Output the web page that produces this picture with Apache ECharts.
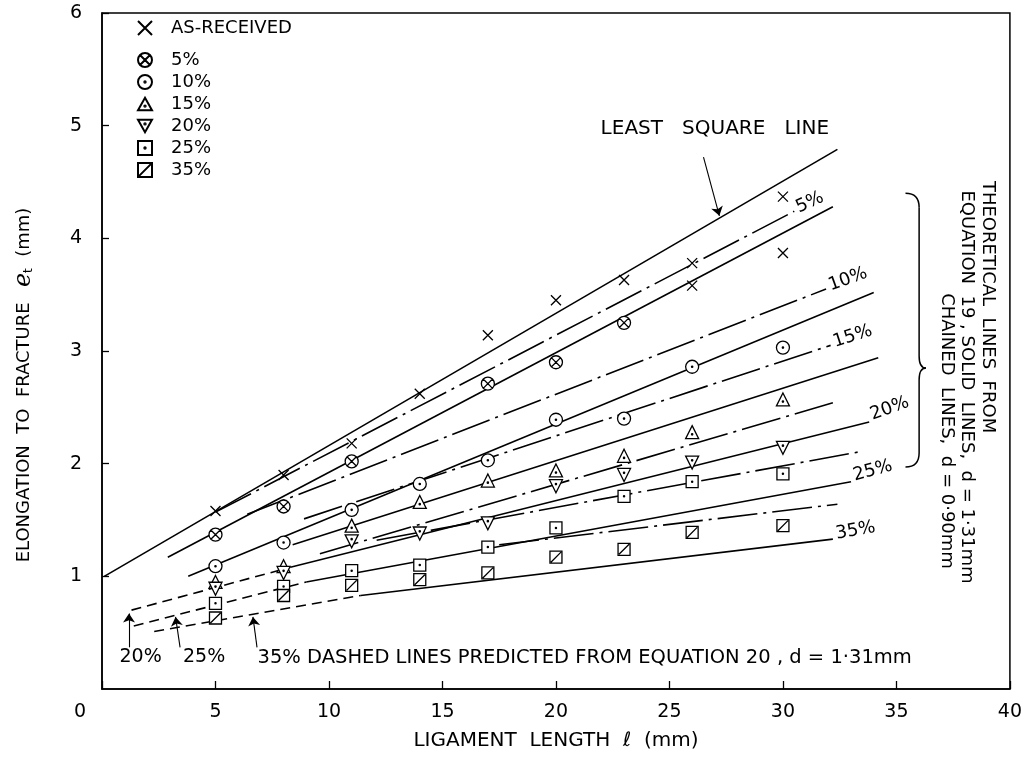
<!DOCTYPE html>
<html><head><meta charset="utf-8">
<script src="https://cdn.jsdelivr.net/npm/echarts@6/dist/echarts.min.js"></script>
<style>html,body{margin:0;padding:0;background:#fff}#c{width:1025px;height:766px}</style>
</head><body><div id="c"></div>
<script>
// ---------- data ----------
const xTicks = [0, 5, 10, 15, 20, 25, 30, 35, 40];
const yTicks = [0, 1, 2, 3, 4, 5, 6];

const asReceived = [[5,1.58],[8,1.90],[11,2.18],[14,2.62],[17,3.14],[20,3.45],[23,3.63],[26,3.78],[26,3.58],[30,4.37],[30,3.87]];
const pct5  = [[5,1.37],[8,1.62],[11,2.02],[17,2.71],[20,2.90],[23,3.25]];
const pct10 = [[5,1.09],[8,1.30],[11,1.59],[14,1.82],[17,2.03],[20,2.39],[23,2.40],[26,2.86],[30,3.03]];
const pct15 = [[5,0.95],[8,1.09],[11,1.45],[14,1.66],[17,1.85],[20,1.94],[23,2.07],[26,2.28],[30,2.57]];
const pct20 = [[5,0.89],[8,1.03],[11,1.31],[14,1.38],[17,1.47],[20,1.80],[23,1.90],[26,2.01],[30,2.14]];
const pct25 = [[5,0.76],[8,0.91],[11,1.05],[14,1.10],[17,1.26],[20,1.43],[23,1.71],[26,1.84],[30,1.91]];
const pct35 = [[5,0.63],[8,0.83],[11,0.92],[14,0.97],[17,1.03],[20,1.17],[23,1.24],[26,1.39],[30,1.45]];

const leastSquare = [[0.1,1.00],[32.4,4.79]];
const chain5  = [[5.0,1.57],[30.5,4.24]];
const solid5  = [[2.9,1.17],[32.2,4.28]];
const chain10 = [[6.4,1.55],[31.9,3.55]];
const solid10 = [[3.8,1.00],[34.0,3.52]];
const chain15 = [[8.9,1.51],[32.1,3.05]];
const solid15 = [[8.4,1.28],[34.2,2.94]];
const chain20 = [[9.6,1.20],[32.2,2.54]];
const solid20 = [[8.3,1.08],[33.8,2.37]];
const chain25 = [[12.1,1.32],[33.5,2.11]];
const solid25 = [[9.0,0.95],[33.0,1.84]];
const chain35 = [[17.5,1.28],[32.4,1.64]];
const solid35 = [[11.4,0.83],[32.2,1.33]];
const dashed20 = [[1.3,0.70],[8.3,1.08]];
const dashed25 = [[1.4,0.56],[9.0,0.95]];
const dashed35 = [[2.3,0.51],[11.4,0.83]];

const lineLabels = ['5%','10%','15%','20%','25%','35%'];

// ---------- styling ----------
const FONT = "'DejaVu Sans', sans-serif";
const BLACK = '#000';
const CHAIN = [40, 6, 3, 6];
const DASH = [10, 6];

const SYM = {
  cross: 'path://M0,0L10,10M10,0L0,10',
  circleX: 'path://M0,5A5,5,0,1,1,10,5A5,5,0,1,1,0,5ZM1.6,1.6L8.4,8.4M8.4,1.6L1.6,8.4',
  circleDot: 'path://M0,5A5,5,0,1,1,10,5A5,5,0,1,1,0,5ZM4.5,5A0.5,0.5,0,1,1,5.5,5A0.5,0.5,0,1,1,4.5,5Z',
  triUp: 'path://M5,0L10,9L0,9ZM4.5,6A0.5,0.5,0,1,1,5.5,6A0.5,0.5,0,1,1,4.5,6Z',
  triDown: 'path://M0,0L10,0L5,9ZM4.5,3A0.5,0.5,0,1,1,5.5,3A0.5,0.5,0,1,1,4.5,3Z',
  squareDot: 'path://M0,0L10,0L10,10L0,10ZM4.5,5A0.5,0.5,0,1,1,5.5,5A0.5,0.5,0,1,1,4.5,5Z',
  squareSlash: 'path://M0,0L10,0L10,10L0,10ZM0.8,9.2L9.2,0.8'
};

function lineSeries(name, data, type) {
  return {
    type: 'line', name: name, data: data, symbol: 'none', silent: true, z: 2,
    lineStyle: { color: BLACK, width: 1.6, type: type },
    animation: false
  };
}
function scatterSeries(name, data, symbol, size) {
  return {
    type: 'scatter', name: name, data: data, symbol: symbol, symbolSize: size, z: 5,
    itemStyle: { color: '#fff', borderColor: BLACK, borderWidth: 1.3, opacity: 1 },
    animation: false
  };
}

const labelSpecs = [
  { line: chain5,  text: lineLabels[0], rotate: 25, offset: [0, -3] },
  { line: chain10, text: lineLabels[1], rotate: 20, offset: [0, -3] },
  { line: chain15, text: lineLabels[2], rotate: 18, offset: [0, -3] },
  { line: solid20, text: lineLabels[3], rotate: 20, offset: [0, -7] },
  { line: solid25, text: lineLabels[4], rotate: 15, offset: [0, -6] },
  { line: solid35, text: lineLabels[5], rotate: 10, offset: [0, -5] }
];

const arrowMark = (curve, items) => ({
  silent: true, symbol: ['none', 'arrow'], symbolSize: 9, animation: false,
  label: { show: false },
  lineStyle: { color: BLACK, width: 1.1, type: 'solid', curveness: curve },
  data: items
});

const series = [
  Object.assign(lineSeries('LS', leastSquare, 'solid'), {
    markLine: arrowMark(0, [
      [{ coord: [1.19, 0.37] }, { coord: [1.19, 0.67] }],
      [{ coord: [3.44, 0.37] }, { coord: [3.24, 0.64] }],
      [{ coord: [6.83, 0.37] }, { coord: [6.65, 0.64] }]
    ])
  }),
  Object.assign(lineSeries('c5', chain5, CHAIN), {
    markLine: arrowMark(-0.17, [
      [{ coord: [26.5, 4.72] }, { coord: [27.2, 4.20] }]
    ])
  }),
  lineSeries('s5', solid5, 'solid'),
  lineSeries('c10', chain10, CHAIN), lineSeries('s10', solid10, 'solid'),
  lineSeries('c15', chain15, CHAIN), lineSeries('s15', solid15, 'solid'),
  lineSeries('c20', chain20, CHAIN), lineSeries('s20', solid20, 'solid'),
  lineSeries('c25', chain25, CHAIN), lineSeries('s25', solid25, 'solid'),
  lineSeries('c35', chain35, CHAIN), lineSeries('s35', solid35, 'solid'),
  lineSeries('d20', dashed20, DASH), lineSeries('d25', dashed25, DASH), lineSeries('d35', dashed35, DASH),
  scatterSeries('AS-RECEIVED', asReceived, SYM.cross, 10),
  scatterSeries('5%', pct5, SYM.circleX, 13),
  scatterSeries('10%', pct10, SYM.circleDot, 13),
  scatterSeries('15%', pct15, SYM.triUp, 13),
  scatterSeries('20%', pct20, SYM.triDown, 13),
  scatterSeries('25%', pct25, SYM.squareDot, 12),
  scatterSeries('35%', pct35, SYM.squareSlash, 12),
  {
    type: 'scatter', name: 'lineLabels', symbolSize: 0, silent: true, z: 6, animation: false,
    itemStyle: { color: BLACK, opacity: 1 },
    data: labelSpecs.map(s => ({
      value: s.line[s.line.length - 1],
      label: { show: true, formatter: s.text, position: 'right', distance: 4, rotate: s.rotate,
               offset: s.offset, fontSize: 18, color: BLACK, opacity: 1, fontFamily: FONT }
    }))
  }
];

const chart = echarts.init(document.getElementById('c'), null, { renderer: 'canvas' });

const option = {
  animation: false,
  backgroundColor: '#fff',
  textStyle: { fontFamily: FONT, color: BLACK },
  grid: { left: 102, right: 15, top: 13, bottom: 77, show: true, borderColor: BLACK, borderWidth: 1.5, backgroundColor: 'transparent' },
  legend: [
    {
      data: ['AS-RECEIVED'], orient: 'vertical', left: 132, top: 14,
      itemWidth: 14, itemHeight: 14, itemGap: 2, selectedMode: false,
      textStyle: { fontSize: 18, color: BLACK, fontFamily: FONT, padding: [0, 0, 0, 14] }
    },
    {
      data: ['5%','10%','15%','20%','25%','35%'], orient: 'vertical', left: 132, top: 46,
      itemWidth: 14, itemHeight: 14, itemGap: 4, selectedMode: false,
      textStyle: { fontSize: 18, color: BLACK, fontFamily: FONT, padding: [0, 0, 0, 14] }
    }
  ],
  xAxis: {
    type: 'value', min: xTicks[0], max: xTicks[xTicks.length - 1], interval: 5,
    name: 'LIGAMENT  LENGTH  ℓ  (mm)', nameLocation: 'middle', nameGap: 42,
    nameTextStyle: { fontSize: 20, color: BLACK, fontFamily: FONT },
    axisLine: { lineStyle: { color: BLACK, width: 1.5 } },
    axisTick: { inside: true, length: 8, lineStyle: { color: BLACK, width: 1.3 } },
    axisLabel: {
      fontSize: 19, color: BLACK, margin: 14, fontFamily: FONT,
      formatter: v => (v === 0 ? '{z|0}' : String(v)),
      rich: { z: { fontSize: 19, padding: [0, 44, 0, 0], fontFamily: FONT, color: BLACK } }
    },
    splitLine: { show: false }
  },
  yAxis: {
    type: 'value', min: yTicks[0], max: yTicks[yTicks.length - 1], interval: 1,
    name: '{a|ELONGATION  TO  FRACTURE}    {e|e}{t|t}   {a|(mm)}',
    nameLocation: 'middle', nameGap: 66, nameRotate: 90,
    nameTextStyle: {
      padding: [0, 68, 0, 0],
      rich: {
        a: { fontSize: 18, color: BLACK, fontFamily: FONT },
        e: { fontSize: 24, color: BLACK, fontFamily: "'DejaVu Serif', serif", fontStyle: 'italic' },
        t: { fontSize: 12, color: BLACK, fontFamily: FONT, padding: [10, 0, 0, 0] }
      }
    },
    axisLine: { lineStyle: { color: BLACK, width: 1.5 } },
    axisTick: { inside: true, length: 7, lineStyle: { color: BLACK, width: 1.3 } },
    axisLabel: { fontSize: 19, color: BLACK, margin: 20, showMinLabel: false, fontFamily: FONT },
    splitLine: { show: false }
  },
  series: series
};
chart.setOption(option);

// ---------- annotations, placed through the chart's coordinate system ----------
const P = (x, y) => chart.convertToPixel({ gridIndex: 0 }, [x, y]);
function txt(pt, text, opts) {
  return Object.assign({
    type: 'text', x: pt[0], y: pt[1], silent: true, z: 10,
    style: Object.assign({ text: text, fill: BLACK, font: '17px ' + FONT, align: 'center', verticalAlign: 'middle' }, opts && opts.style || {})
  }, opts && opts.el || {});
}
const ls = P(27.0, 4.97);
const b20 = P(1.7, 0.28), b25 = P(4.5, 0.28), b35 = P(6.85, 0.28);
const r1 = P(39.0, 3.39), r2 = P(38.1, 2.68), r3 = P(37.2, 2.29);
const bt = P(35.4, 4.40), bc = P(36.3, 2.85), bb = P(35.4, 1.97);
const bxv = P(36.0, 0)[0];
const braceStyle = { fill: 'none', stroke: BLACK, lineWidth: 1.5 };
function bez(x1, y1, cx, cy, x2, y2) {
  return { type: 'bezierCurve', silent: true, z: 10, shape: { x1: x1, y1: y1, cpx1: cx, cpy1: cy, x2: x2, y2: y2 }, style: braceStyle };
}
function seg(x1, y1, x2, y2) {
  return { type: 'line', silent: true, z: 10, shape: { x1: x1, y1: y1, x2: x2, y2: y2 }, style: braceStyle };
}

chart.setOption({
  graphic: [
    txt(ls, 'LEAST   SQUARE   LINE', { style: { font: '20px ' + FONT } }),
    txt(b20, '20%', { style: { font: '19px ' + FONT } }),
    txt(b25, '25%', { style: { font: '19px ' + FONT } }),
    txt(b35, '35% DASHED LINES PREDICTED FROM EQUATION 20 , d = 1·31mm', { style: { align: 'left', font: '19.5px ' + FONT } }),
    txt(r1, 'THEORETICAL  LINES  FROM', { el: { rotation: -Math.PI / 2 }, style: { font: '18px ' + FONT } }),
    txt(r2, 'EQUATION  19 , SOLID  LINES,  d = 1·31mm', { el: { rotation: -Math.PI / 2 }, style: { font: '18px ' + FONT } }),
    txt(r3, 'CHAINED  LINES,  d = 0·90mm', { el: { rotation: -Math.PI / 2 }, style: { font: '18px ' + FONT } }),
    bez(bt[0], bt[1], bxv, bt[1], bxv, bt[1] + 14),
    seg(bxv, bt[1] + 14, bxv, bc[1] - 12),
    bez(bxv, bc[1] - 12, bxv, bc[1], bc[0], bc[1]),
    bez(bc[0], bc[1], bxv, bc[1], bxv, bc[1] + 12),
    seg(bxv, bc[1] + 12, bxv, bb[1] - 14),
    bez(bxv, bb[1] - 14, bxv, bb[1], bb[0], bb[1])
  ]
});
</script>
</body></html>
